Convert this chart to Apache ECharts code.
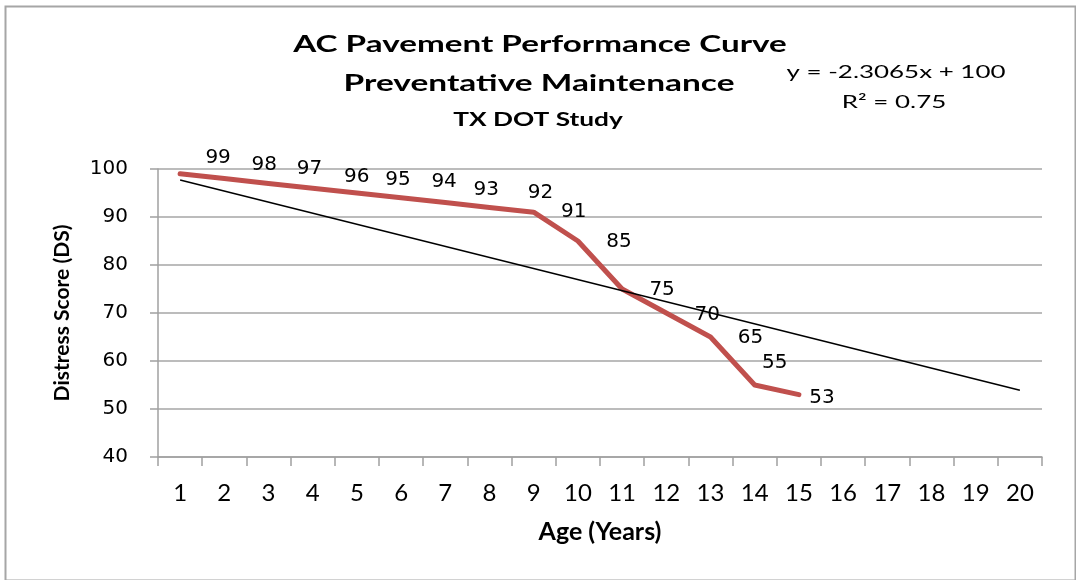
<!DOCTYPE html>
<html>
<head>
<meta charset="utf-8">
<script src="https://cdn.jsdelivr.net/npm/echarts@6/dist/echarts.min.js"></script>
<style>html,body{margin:0;padding:0;background:#fff;}#c{width:1076px;height:580px;}</style>
</head>
<body>
<div id="c"></div>
<script>
var ages = ['1','2','3','4','5','6','7','8','9','10','11','12','13','14','15','16','17','18','19','20'];
var distressScores = [99,98,97,96,95,94,93,92,91,85,75,70,65,55,53];
var trendAges = ['1','20'];
var trendValues = [97.7, 53.9];
var yTicks = {min:40, max:100, interval:10};
var titleLines = ['AC Pavement Performance Curve','Preventative Maintenance','TX DOT Study'];
var equationLines = ['y = -2.3065x + 100','R\u00b2 = 0.75'];
var labelOffsets = [[38,-16],[40,-14],[41,-15],[44,-11],[41,-13],[43,-16],[41,-13],[51,-15],[40,0],[41,1],[40,1],[41,2],[40,1],[20,-22],[23,3]];

var chart = echarts.init(document.getElementById('c'));
var lineData = distressScores.map(function(v,i){
  return {value:v, label:{offset:labelOffsets[i]}};
});
var trendData = trendAges.map(function(a,i){ return [a, trendValues[i]]; });

function stretchedText(txt, x, y, font, sx){
  return {type:'text', x:x, y:y, scaleX:sx, silent:true,
    style:{text:txt, font:font, fill:'#000', align:'center', verticalAlign:'middle'}};
}

chart.setOption({
  animation:false,
  backgroundColor:'#fff',
  graphic:[
    {type:'rect', left:3, top:4, shape:{width:1070, height:574}, style:{fill:'none', stroke:'#a6a6a6', lineWidth:2}, silent:true, z:-1},
    stretchedText(titleLines[0], 540, 45, 'bold 22px Lato', 1.51),
    stretchedText(titleLines[1], 539, 84, 'bold 22px Lato', 1.52),
    stretchedText(titleLines[2], 538, 120, 'bold 18px Lato', 1.46),
    stretchedText(equationLines[0], 896, 72, '18px Lato', 1.44),
    stretchedText(equationLines[1], 894, 102, '18px Lato', 1.44)
  ],
  grid:{left:158, right:34, top:169, bottom:123},
  xAxis:{
    type:'category', data:ages, boundaryGap:true,
    name:'Age (Years)', nameLocation:'middle', nameGap:62,
    nameTextStyle:{fontFamily:'Lato', fontWeight:'bold', fontSize:25, color:'#000'},
    axisLine:{lineStyle:{color:'#a0a0a0', width:1.5}},
    axisTick:{show:true, inside:false, length:9, alignWithLabel:false, lineStyle:{color:'#a0a0a0', width:1.5}},
    axisLabel:{margin:24, fontFamily:'Lato', fontSize:24, color:'#000', interval:0},
    splitLine:{show:false}
  },
  yAxis:{
    type:'value', min:yTicks.min, max:yTicks.max, interval:yTicks.interval,
    name:'Distress Score (DS)', nameLocation:'middle', nameGap:85, nameRotate:90,
    nameTextStyle:{fontFamily:'Lato', fontWeight:'bold', fontSize:21, color:'#000'},
    axisLine:{show:true, lineStyle:{color:'#a0a0a0', width:1.5}},
    axisTick:{show:true, inside:false, length:8, lineStyle:{color:'#a0a0a0', width:1.5}},
    axisLabel:{margin:30, fontFamily:'DejaVu Sans', fontSize:20, color:'#000'},
    splitLine:{show:true, lineStyle:{color:'#a6a6a6', width:1.5}}
  },
  series:[
    {
      type:'line', data:trendData, symbol:'none', silent:true,
      lineStyle:{color:'#000', width:1.5}, z:3
    },
    {
      type:'line', data:lineData, symbol:'circle', symbolSize:1, showSymbol:true,
      itemStyle:{color:'#c0504d'},
      lineStyle:{color:'#c0504d', width:5, join:'round', cap:'round'},
      label:{show:true, position:'inside', fontFamily:'DejaVu Sans', fontSize:20, color:'#000'},
      z:2
    }
  ]
});
</script>
</body>
</html>
